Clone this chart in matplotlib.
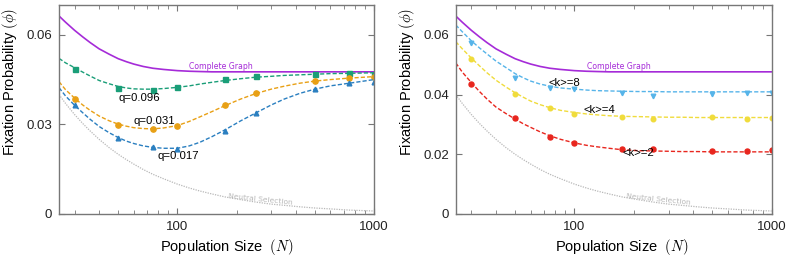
import matplotlib
matplotlib.use("Agg")
import matplotlib.pyplot as plt
from matplotlib.ticker import FixedLocator, NullFormatter

plt.rcParams['font.family'] = ['Liberation Sans', 'DejaVu Sans']
plt.rcParams['mathtext.fontset'] = 'cm'

# simulation points
N_pts = [30, 50, 75, 100, 175, 250, 500, 750, 1000]
q096_pts = [0.0485, 0.0421, 0.0415, 0.0424, 0.0451, 0.0463, 0.0468, 0.0472, 0.0465]
q031_pts = [0.0384, 0.0297, 0.0286, 0.0296, 0.0365, 0.0404, 0.0446, 0.0454, 0.0458]
q017_pts = [0.0364, 0.0253, 0.0225, 0.0219, 0.0279, 0.0337, 0.0419, 0.0440, 0.0441]
k8_pts = [0.0571, 0.0454, 0.0421, 0.0418, 0.0406, 0.0396, 0.0401, 0.0406, 0.0406]
k4_pts = [0.0519, 0.0401, 0.0354, 0.0335, 0.0326, 0.0318, 0.0326, 0.0318, 0.0322]
k2_pts = [0.0435, 0.0320, 0.0259, 0.0237, 0.0216, 0.0216, 0.0211, 0.0211, 0.0213]

# curves
N_curve = [25, 27, 30, 33, 36, 40, 45, 50, 55, 60, 67, 75, 85, 100, 115, 130, 150,
           175, 210, 250, 300, 350, 420, 500, 600, 750, 1000]
complete = [0.0663, 0.0642, 0.0615, 0.0593, 0.0574, 0.0553, 0.0535, 0.0520, 0.0510,
            0.0502, 0.0494, 0.0488, 0.0484, 0.0480, 0.0478, 0.0477, 0.0476,
            0.0476, 0.0476, 0.0476, 0.0476, 0.0476, 0.0476, 0.0476, 0.0476, 0.0476, 0.0476]
neutral = [0.0400, 0.0370, 0.0333, 0.0303, 0.0278, 0.0250, 0.0222, 0.0200, 0.0182,
           0.0167, 0.0149, 0.0133, 0.0118, 0.0100, 0.0087, 0.0077, 0.0067,
           0.0057, 0.0048, 0.0040, 0.0033, 0.0029, 0.0024, 0.0020, 0.0017, 0.0013, 0.0010]
q096_fit = [0.0521, 0.0506, 0.0490, 0.0475, 0.0462, 0.0447, 0.0436, 0.0427, 0.0422,
            0.0419, 0.0418, 0.0418, 0.0420, 0.0424, 0.0429, 0.0435, 0.0441,
            0.0447, 0.0453, 0.0458, 0.0461, 0.0464, 0.0466, 0.0468, 0.0470, 0.0471, 0.0473]
q031_fit = [0.0443, 0.0416, 0.0388, 0.0365, 0.0347, 0.0328, 0.0312, 0.0301, 0.0294,
            0.0289, 0.0286, 0.0285, 0.0288, 0.0296, 0.0310, 0.0325, 0.0343,
            0.0363, 0.0385, 0.0403, 0.0418, 0.0428, 0.0438, 0.0445, 0.0450, 0.0455, 0.0460]
q017_fit = [0.0423, 0.0395, 0.0364, 0.0339, 0.0317, 0.0293, 0.0272, 0.0256, 0.0244,
            0.0236, 0.0228, 0.0223, 0.0220, 0.0220, 0.0228, 0.0240, 0.0259,
            0.0282, 0.0312, 0.0338, 0.0365, 0.0385, 0.0404, 0.0418, 0.0429, 0.0438, 0.0450]
k8_fit = [0.0633, 0.0610, 0.0580, 0.0556, 0.0536, 0.0512, 0.0490, 0.0470, 0.0456,
          0.0445, 0.0435, 0.0428, 0.0422, 0.0418, 0.0415, 0.0413, 0.0412,
          0.0411, 0.0410, 0.0410, 0.0409, 0.0409, 0.0409, 0.0409, 0.0409, 0.0409, 0.0409]
k4_fit = [0.0577, 0.0553, 0.0522, 0.0496, 0.0473, 0.0448, 0.0425, 0.0406, 0.0391,
          0.0378, 0.0366, 0.0356, 0.0347, 0.0340, 0.0335, 0.0332, 0.0329,
          0.0327, 0.0326, 0.0325, 0.0324, 0.0324, 0.0323, 0.0323, 0.0323, 0.0323, 0.0323]
k2_fit = [0.0506, 0.0475, 0.0440, 0.0410, 0.0385, 0.0358, 0.0336, 0.0318, 0.0302,
          0.0290, 0.0275, 0.0262, 0.0250, 0.0238, 0.0230, 0.0225, 0.0220,
          0.0215, 0.0212, 0.0211, 0.0210, 0.0209, 0.0209, 0.0208, 0.0208, 0.0208, 0.0208]

purple = '#a52bd8'
gray = '#b8b8b8'
frame = '#777777'

fig = plt.figure(figsize=(7.89, 2.60), dpi=100)
ax1 = fig.add_axes([0.0748, 0.177, 0.3992, 0.804])
ax2 = fig.add_axes([0.5776, 0.177, 0.4004, 0.804])


def base(ax, yticks, nx, xlx):
    ax.plot(N_curve, complete, color=purple, lw=1.2)
    ax.plot(N_curve, neutral, color=gray, lw=0.9, ls=(0, (1, 1)))
    ax.set_xscale('log')
    ax.set_xlim(25, 1000)
    ax.set_ylim(0, 0.07)
    ax.set_yticks(yticks)
    ax.set_yticklabels(['0' if t == 0 else f'{t:g}' for t in yticks])
    ax.xaxis.set_major_locator(FixedLocator([100, 1000]))
    ax.xaxis.set_minor_locator(FixedLocator([30, 40, 50, 60, 70, 80, 90,
                                             200, 300, 400, 500, 600, 700, 800, 900]))
    ax.xaxis.set_minor_formatter(NullFormatter())
    ax.set_xticklabels(['100', '1000'])
    ax.tick_params(which='both', direction='in', top=True, right=True,
                   color=frame, labelsize=9.5, labelcolor='#222222')
    ax.tick_params(which='major', length=4, pad=5)
    ax.tick_params(which='minor', length=3)
    for s in ax.spines.values():
        s.set_color(frame)
        s.set_linewidth(1.0)
    ax.set_xlabel(r'Population Size  $(N)$', fontsize=10.5)
    ax.xaxis.set_label_coords(xlx, -0.158, transform=ax.transAxes)
    ax.xaxis.label.set_va('center')
    ax.set_ylabel(r'Fixation Probability $(\phi)$', fontsize=10.5)
    ax.yaxis.set_label_coords(-0.155, 0.63, transform=ax.transAxes)
    ax.yaxis.label.set_va('center')
    ax.text(nx, 0.072, 'Neutral Selection', transform=ax.transAxes, fontsize=5.4,
            color=gray, rotation=-6, family='DejaVu Sans', va='center')
    ax.text(nx - 0.125, 0.705, 'Complete Graph', transform=ax.transAxes, fontsize=5.6,
            color=purple, family='DejaVu Sans', va='center')


base(ax1, [0, 0.03, 0.06], 0.537, 0.533)
green, orange, blue = '#1a9e78', '#e8a015', '#2a7fc0'
for fit, pts, c, m, ms in [(q096_fit, q096_pts, green, 's', 3.6),
                           (q031_fit, q031_pts, orange, 'o', 3.8),
                           (q017_fit, q017_pts, blue, '^', 3.4)]:
    ax1.plot(N_curve, fit, color=c, lw=1.0, ls=(0, (3, 1.5)))
    ax1.plot(N_pts, pts, ls='none', marker=m, ms=ms, color=c)
ax1.text(0.19, 0.555, 'q=0.096', transform=ax1.transAxes, fontsize=8.2, va='center')
ax1.text(0.238, 0.445, 'q=0.031', transform=ax1.transAxes, fontsize=8.2, va='center')
ax1.text(0.314, 0.278, 'q=0.017', transform=ax1.transAxes, fontsize=8.2, va='center')

base(ax2, [0, 0.02, 0.04, 0.06], 0.539, 0.526)
lblue, yellow, red = '#56b4e9', '#f0dc3c', '#e8261e'
for fit, pts, c, m, ms in [(k8_fit, k8_pts, lblue, 'v', 3.3),
                           (k4_fit, k4_pts, yellow, 'o', 3.3),
                           (k2_fit, k2_pts, red, 'o', 3.6)]:
    ax2.plot(N_curve, fit, color=c, lw=1.0, ls=(0, (3, 1.5)))
    ax2.plot(N_pts, pts, ls='none', marker=m, ms=ms, color=c)
ax2.text(0.295, 0.627, '<k>=8', transform=ax2.transAxes, fontsize=8.2, va='center')
ax2.text(0.403, 0.498, '<k>=4', transform=ax2.transAxes, fontsize=8.2, va='center')
ax2.text(0.529, 0.292, '<k>=2', transform=ax2.transAxes, fontsize=8.2, va='center')

fig.savefig('out.png', dpi=100)
